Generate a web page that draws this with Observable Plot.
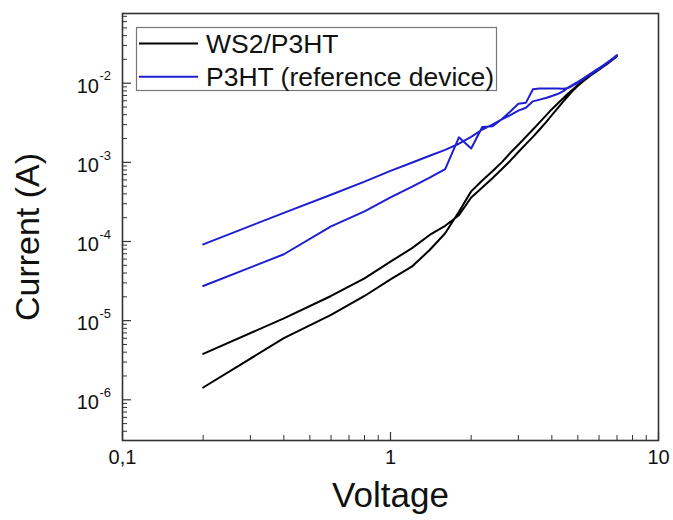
<!DOCTYPE html>
<html><head><meta charset="utf-8">
<script src="https://cdn.jsdelivr.net/npm/d3@7"></script>
<script src="https://cdn.jsdelivr.net/npm/@observablehq/plot@0.6"></script>
<style>body{margin:0;background:#fff}#chart{width:673px;height:520px}</style>
</head><body><div id="chart"></div>
<script>
// Data
const voltage = [0.2,0.4,0.6,0.8,1.0,1.2,1.4,1.6,1.8,2.0,2.2,2.4,2.6,2.8,3.0,3.2,3.4,3.6,3.8,4.0,4.2,4.4,4.6,4.8,5.0,5.2,5.4,5.6,5.8,6.0,6.2,6.4,6.6,6.8,7.0];
const ws2SweepA = [1.43e-6,6.0e-6,1.18e-5,2.05e-5,3.33e-5,4.8e-5,7.8e-5,1.27e-4,2.38e-4,4.3e-4,5.9e-4,7.7e-4,1.0e-3,1.32e-3,1.67e-3,2.1e-3,2.6e-3,3.2e-3,3.9e-3,4.7e-3,5.5e-3,6.4e-3,7.4e-3,8.4e-3,9.5e-3,1.06e-2,1.16e-2,1.27e-2,1.38e-2,1.49e-2,1.61e-2,1.74e-2,1.88e-2,2.03e-2,2.2e-2];
const ws2SweepB = [3.8e-6,1.07e-5,2.05e-5,3.43e-5,5.56e-5,8.2e-5,1.21e-4,1.58e-4,2.15e-4,3.6e-4,4.8e-4,6.3e-4,8.2e-4,1.05e-3,1.35e-3,1.7e-3,2.1e-3,2.6e-3,3.2e-3,3.95e-3,4.8e-3,5.8e-3,6.9e-3,8.1e-3,9.3e-3,1.04e-2,1.15e-2,1.26e-2,1.37e-2,1.48e-2,1.6e-2,1.73e-2,1.87e-2,2.02e-2,2.2e-2];
const p3htSweepA = [9.2e-5,2.3e-4,3.9e-4,5.7e-4,7.8e-4,9.9e-4,1.21e-3,1.44e-3,1.72e-3,2.1e-3,2.6e-3,3.0e-3,3.5e-3,3.95e-3,4.5e-3,4.9e-3,5.9e-3,6.2e-3,6.5e-3,6.9e-3,7.3e-3,7.9e-3,8.8e-3,9.6e-3,1.04e-2,1.13e-2,1.23e-2,1.33e-2,1.44e-2,1.55e-2,1.67e-2,1.8e-2,1.94e-2,2.09e-2,2.27e-2];
const p3htSweepB = [2.74e-5,6.9e-5,1.55e-4,2.4e-4,3.6e-4,4.9e-4,6.4e-4,8.2e-4,2.07e-3,1.5e-3,2.8e-3,2.85e-3,3.5e-3,4.4e-3,5.5e-3,5.65e-3,8.4e-3,8.6e-3,8.6e-3,8.6e-3,8.6e-3,8.5e-3,8.7e-3,9.4e-3,1.02e-2,1.1e-2,1.2e-2,1.3e-2,1.4e-2,1.51e-2,1.63e-2,1.76e-2,1.9e-2,2.05e-2,2.24e-2];
const seriesNames = ["WS2/P3HT", "P3HT (reference device)"];
const seriesColors = ["#000000", "#1e1ed2"];
const xTicks = [0.1, 1, 10];
const xTickLabels = ["0,1", "1", "10"];
const yTicks = [1e-6, 1e-5, 1e-4, 1e-3, 1e-2];
const yExponents = ["-6", "-5", "-4", "-3", "-2"];
const xTitle = "Voltage";
const yTitle = "Current (A)";

// Build table: each series is a loop (sweep A up to 7 V, sweep B back down)
function loop(name, a, b) {
  const up = voltage.map((v, i) => ({V: v, I: a[i], series: name}));
  const down = voltage.map((v, i) => ({V: v, I: b[i], series: name})).reverse();
  return up.concat(down);
}
const rows = loop(seriesNames[0], ws2SweepA, ws2SweepB).concat(loop(seriesNames[1], p3htSweepA, p3htSweepB));

const W = 673, H = 520, mL = 122, mR = 15, mT = 13, mB = 80;
const innerW = W - mL - mR, innerH = H - mT - mB;
const xDomain = [0.1, 10], yDomain = [3.06e-7, 0.076];
const isDecade = d => Math.abs(Math.log10(d) - Math.round(Math.log10(d))) < 1e-9;
const xMinor = d3.scaleLog().domain(xDomain).ticks().filter(d => !isDecade(d));
const yMinor = d3.scaleLog().domain(yDomain).ticks().filter(d => !isDecade(d));
const xTickRows = xTicks.map((v, i) => ({v, label: xTickLabels[i]}));
const yTickRows = yTicks.map((v, i) => ({v, exp: yExponents[i]}));
const axisColor = "#333";
const font = "'Liberation Sans', Arial, sans-serif";

const plot = Plot.plot({
  width: W, height: H,
  marginLeft: mL, marginRight: mR, marginTop: mT, marginBottom: mB,
  style: {fontFamily: font, background: "#fff", color: "#111"},
  x: {type: "log", domain: xDomain, axis: null},
  y: {type: "log", domain: yDomain, axis: null},
  color: {domain: seriesNames, range: seriesColors},
  marks: [
    Plot.line(rows, {x: "V", y: "I", z: "series", stroke: "series", strokeWidth: 2, curve: "linear"}),
    Plot.frame({stroke: axisColor, strokeWidth: 1.6}),
    Plot.tickY(yTicks, {y: d => d, insetRight: innerW - 9, stroke: axisColor, strokeWidth: 1.2}),
    Plot.tickY(yMinor, {y: d => d, insetRight: innerW - 5, stroke: axisColor, strokeWidth: 1}),
    Plot.tickX(xTicks, {x: d => d, insetTop: innerH - 8, stroke: axisColor, strokeWidth: 1.2}),
    Plot.tickX(xMinor, {x: d => d, insetTop: innerH - 5, stroke: axisColor, strokeWidth: 1}),
    Plot.text(xTickRows, {x: "v", text: "label", frameAnchor: "bottom", dy: 23, fontSize: 20}),
    Plot.text(yTickRows, {y: "v", text: () => "10", frameAnchor: "left", dx: -23.5, dy: 3, textAnchor: "end", fontSize: 20}),
    Plot.text(yTickRows, {y: "v", text: "exp", frameAnchor: "left", dx: -23, dy: -7, textAnchor: "start", fontSize: 13}),
    Plot.text([xTitle], {text: d => d, frameAnchor: "bottom", dy: 66, textAnchor: "middle", fontSize: 35}),
    Plot.text([yTitle], {text: d => d, frameAnchor: "left", dx: -94, dy: 10, textAnchor: "middle", rotate: -90, fontSize: 34})
  ]
});
document.getElementById("chart").appendChild(plot);

// Legend box inside the plot frame
const svg = d3.select(plot);
const lg = svg.append("g").attr("font-family", font).attr("text-anchor", "start");
lg.append("rect").attr("x", 136.5).attr("y", 27.5).attr("width", 360).attr("height", 63)
  .attr("fill", "#fff").attr("stroke", "#777").attr("stroke-width", 1.2);
seriesNames.forEach((name, i) => {
  const cy = 43.5 + i * 33.3;
  lg.append("line").attr("x1", 139).attr("x2", 198).attr("y1", cy).attr("y2", cy)
    .attr("stroke", seriesColors[i]).attr("stroke-width", 2);
  lg.append("text").attr("x", 206).attr("y", cy + 9.4).attr("font-size", 26.5)
    .attr("text-anchor", "start").attr("fill", "#111").text(name);
});
</script>
</body></html>
